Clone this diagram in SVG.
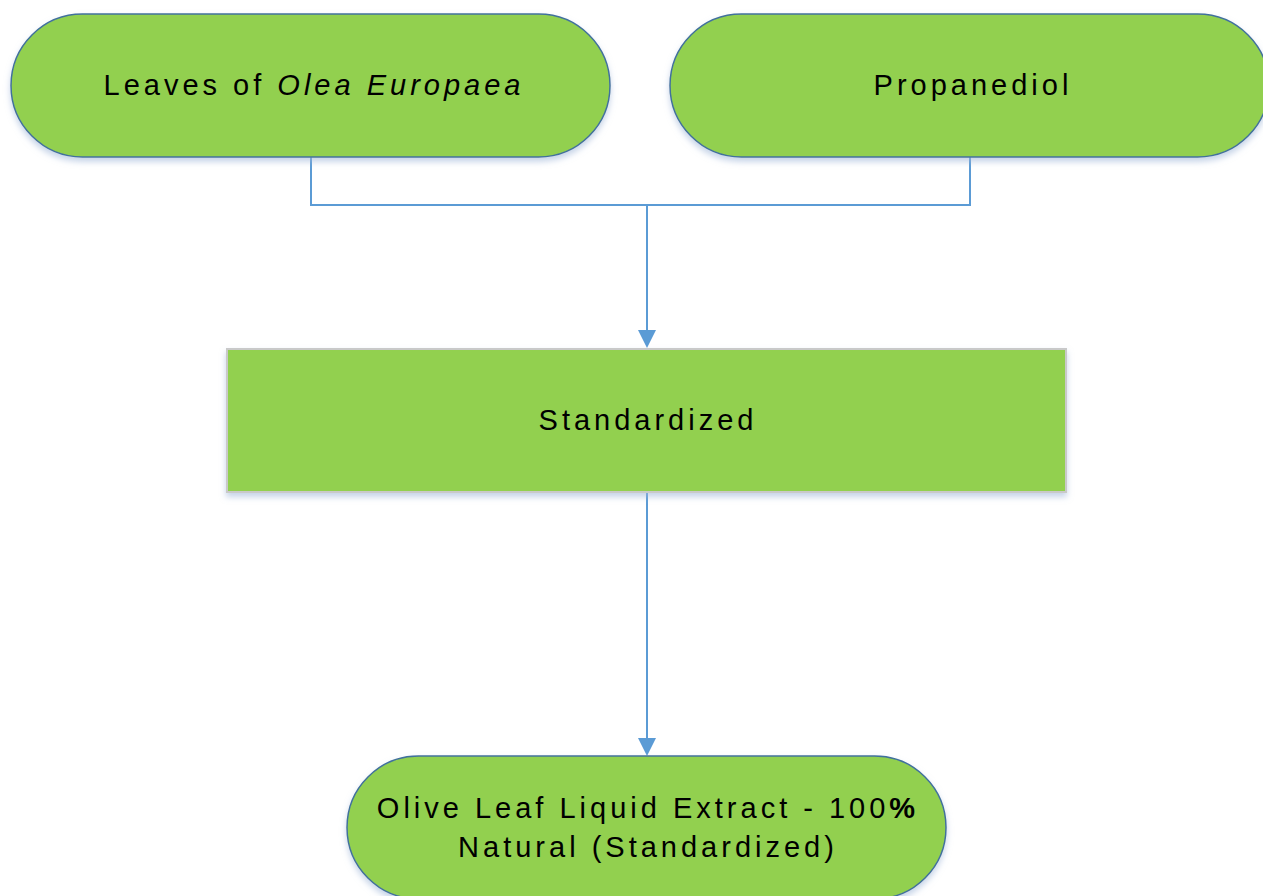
<svg xmlns="http://www.w3.org/2000/svg" width="1263" height="896" viewBox="0 0 1263 896">
<style>
.term{fill:#92d050;stroke:#41719c;stroke-width:1.5}
.proc{fill:#92d050;stroke:#c9c9c9;stroke-width:2}
.lbl{font-family:"Liberation Sans",Arial,sans-serif;font-size:29px;fill:#000;text-anchor:middle;letter-spacing:4px}
.conn{fill:none;stroke:#5b9bd5;stroke-width:2}
</style>
<defs>
<filter id="sh" x="-10%" y="-20%" width="120%" height="150%">
<feGaussianBlur in="SourceAlpha" stdDeviation="3"/>
<feOffset dx="0" dy="4" result="b"/>
<feFlood flood-color="#9fb6d8" flood-opacity="0.6"/>
<feComposite in2="b" operator="in"/>
<feMerge><feMergeNode/><feMergeNode in="SourceGraphic"/></feMerge>
</filter>
</defs>
<g id="connectors">
<polyline class="conn" points="311,157 311,205 970,205 970,157"/>
<line class="conn" x1="647" y1="205" x2="647" y2="331"/>
<path d="M638,330 L656,330 L647,348 z" fill="#5b9bd5"/>
<line class="conn" x1="647" y1="492" x2="647" y2="739"/>
<path d="M638,738 L656,738 L647,756 z" fill="#5b9bd5"/>
</g>
<g id="node-leaves">
<rect class="term" x="11" y="14" width="599" height="143" rx="71.5" filter="url(#sh)"/>
<text class="lbl" x="314" y="95">Leaves of <tspan font-style="italic">Olea Europaea</tspan></text>
</g>
<g id="node-propanediol">
<rect class="term" x="670" y="14" width="599" height="143" rx="71.5" filter="url(#sh)"/>
<text class="lbl" x="973" y="95">Propanediol</text>
</g>
<g id="node-standardized">
<rect class="proc" x="227" y="349" width="839" height="143" filter="url(#sh)"/>
<text class="lbl" x="648" y="430">Standardized</text>
</g>
<g id="node-extract">
<rect class="term" x="347" y="756" width="599" height="143" rx="71.5" filter="url(#sh)"/>
<text class="lbl" x="648" y="818">Olive Leaf Liquid Extract - 100<tspan font-weight="bold">%</tspan></text>
<text class="lbl" x="648" y="857">Natural (Standardized)</text>
</g>
</svg>
